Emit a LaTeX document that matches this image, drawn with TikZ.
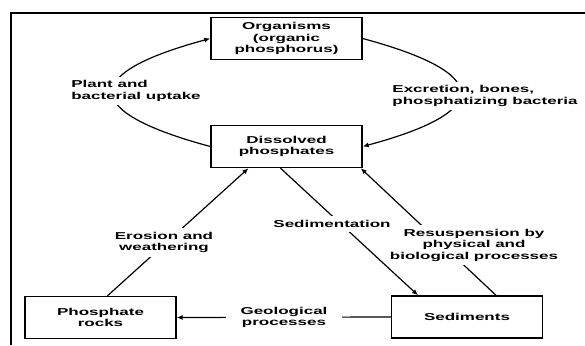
\documentclass[tikz,border=0pt]{standalone}
\usepackage{fontspec}
\newfontfamily\diagfont{Liberation Sans}[FakeStretch=1.7]
\usetikzlibrary{arrows.meta}
\tikzset{
  box/.style={draw, line width=1.4pt, minimum width=151pt, minimum height=42pt, inner sep=0pt, align=center},
  lbl/.style={fill=white, inner sep=4pt},
}
\begin{document}
\begin{tikzpicture}[x=1pt, y=-1pt, line width=1.2pt, >={Latex[length=6pt,width=5pt]},
  font=\diagfont\fontsize{10}{11.5}\selectfont\bfseries]
\useasboundingbox (0,0) rectangle (585,345);
\draw[line width=1.8pt] (585,13)--(11,13)--(11,345);
\node[box] (org) at (286.5,38.5) {Organisms\\(organic\\phosphorus)};
\node[box] (dis) at (286.5,146.5) {Dissolved\\phosphates};
\node[box] (rocks) at (100.5,317.5) {Phosphate\\rocks};
\node[box] (sed) at (467,317) {Sediments};
\draw[->] (dis.west) .. controls +(-130,-35) and +(-130,35) .. (org.west);
\draw[->] (org.east) .. controls +(130,35) and +(130,-35) .. (dis.east);
\draw[->] ([xshift=7pt]rocks.north)--([xshift=-38pt]dis.south);
\draw[->] ([xshift=-6pt]dis.south)--([xshift=-49pt]sed.north);
\draw[->] ([xshift=29pt]sed.north)--([xshift=-2pt]dis.south east);
\draw[->] (sed.west)--(rocks.east);
\node[lbl, align=left] (uptake) at (136,91) {Plant and\\bacterial uptake};
\node[lbl, align=left] (excr) at (485,96) {Excretion, bones,\\phosphatizing bacteria};
\node[lbl, align=center] (erosion) at (164,242.5) {Erosion and\\weathering};
\node[lbl, align=center] (resusp) at (474,245) {Resuspension by\\physical and\\biological processes};
\node[lbl] (sedim) at (332,224) {Sedimentation};
\node[lbl, align=center, inner xsep=15pt] (geo) at (284,317.5) {Geological\\processes};
\end{tikzpicture}
\end{document}
